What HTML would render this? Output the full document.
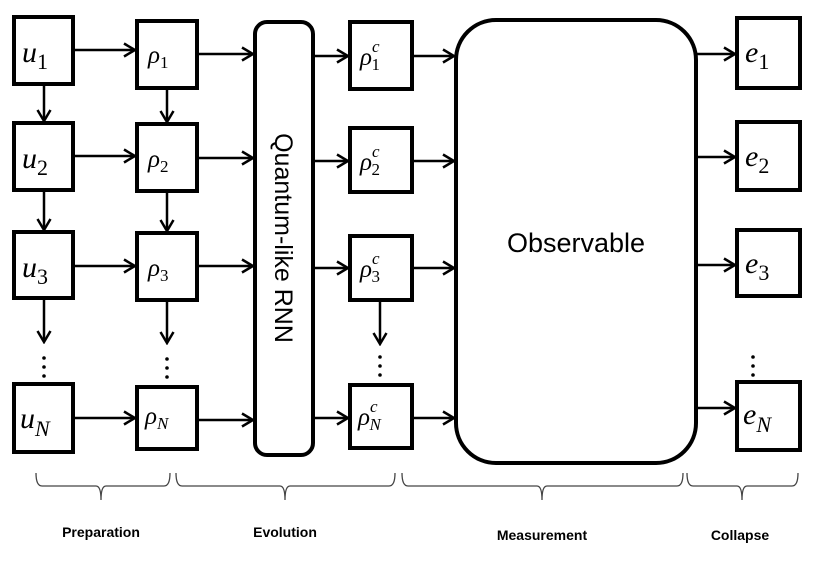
<!DOCTYPE html>
<html><head><meta charset="utf-8"><style>
body{margin:0;background:#fff;}
svg{display:block}
.b{fill:#fff;stroke:#000;stroke-width:4}
.l{stroke:#000;stroke-width:2.5;fill:none}
.m{font-family:"Liberation Serif",serif;font-style:italic;}
.lab{font-family:"Liberation Sans",sans-serif;font-weight:bold;font-size:14px}
</style></head><body>
<svg width="814" height="570" viewBox="0 0 814 570">
<defs><marker id="a" markerWidth="14" markerHeight="16" refX="12" refY="8" orient="auto" markerUnits="userSpaceOnUse"><path d="M1,1.5 L12,8 L1,14.5" fill="none" stroke="#000" stroke-width="2.5"/></marker></defs>
<g class="b">
<rect x="14" y="17" width="59" height="67"/><rect x="14" y="123" width="59" height="67"/><rect x="14" y="232" width="59" height="66"/><rect x="14" y="384" width="59" height="68"/>
<rect x="137" y="21" width="60" height="67"/><rect x="137" y="124" width="60" height="67"/><rect x="137" y="233" width="60" height="67"/><rect x="137" y="387" width="60" height="62"/>
<rect x="255" y="22" width="58" height="433" rx="12"/>
<rect x="350" y="22" width="62" height="67"/><rect x="350" y="128" width="62" height="64"/><rect x="350" y="236" width="62" height="64"/><rect x="350" y="385" width="62" height="63"/>
<rect x="456" y="20" width="240" height="443" rx="40"/>
<rect x="737" y="18" width="63" height="70"/><rect x="737" y="122" width="63" height="68"/><rect x="737" y="230" width="63" height="66"/><rect x="737" y="382" width="63" height="68"/>
</g>
<g class="l" marker-end="url(#a)">
<line x1="73" y1="50" x2="135" y2="50"/><line x1="73" y1="156" x2="135" y2="156"/><line x1="73" y1="266" x2="135" y2="266"/><line x1="73" y1="418" x2="135" y2="418"/>
<line x1="197" y1="54" x2="253" y2="54"/><line x1="197" y1="158" x2="253" y2="158"/><line x1="197" y1="266" x2="253" y2="266"/><line x1="197" y1="420" x2="253" y2="420"/>
<line x1="313" y1="56" x2="348" y2="56"/><line x1="313" y1="161" x2="348" y2="161"/><line x1="313" y1="268" x2="348" y2="268"/><line x1="313" y1="418" x2="348" y2="418"/>
<line x1="412" y1="56" x2="454" y2="56"/><line x1="412" y1="161" x2="454" y2="161"/><line x1="412" y1="268" x2="454" y2="268"/><line x1="412" y1="418" x2="454" y2="418"/>
<line x1="696" y1="54" x2="735" y2="54"/><line x1="696" y1="157" x2="735" y2="157"/><line x1="696" y1="265" x2="735" y2="265"/><line x1="696" y1="408" x2="735" y2="408"/>
<line x1="44" y1="84" x2="44" y2="121"/><line x1="44" y1="190" x2="44" y2="230"/><line x1="44" y1="300" x2="44" y2="342"/>
<line x1="167" y1="88" x2="167" y2="122"/><line x1="167" y1="191" x2="167" y2="231"/><line x1="167" y1="302" x2="167" y2="343"/>
<line x1="380" y1="302" x2="380" y2="344"/>
</g>
<g fill="#000">
<circle cx="44" cy="358" r="1.8"/><circle cx="44" cy="367" r="1.8"/><circle cx="44" cy="376" r="1.8"/>
<circle cx="167" cy="359" r="1.8"/><circle cx="167" cy="368" r="1.8"/><circle cx="167" cy="377" r="1.8"/>
<circle cx="380" cy="357" r="1.8"/><circle cx="380" cy="366" r="1.8"/><circle cx="380" cy="375" r="1.8"/>
<circle cx="753" cy="357" r="1.8"/><circle cx="753" cy="366" r="1.8"/><circle cx="753" cy="375" r="1.8"/>
</g>
<g class="m" font-size="30">
<text x="22" y="62">u<tspan font-size="22" font-style="normal" dy="7">1</tspan></text>
<text x="22" y="168">u<tspan font-size="22" font-style="normal" dy="7">2</tspan></text>
<text x="22" y="277">u<tspan font-size="22" font-style="normal" dy="7">3</tspan></text>
<text x="20" y="428">u<tspan font-size="22" dy="8">N</tspan></text>
<text x="745" y="62">e<tspan font-size="22" font-style="normal" dy="7">1</tspan></text>
<text x="745" y="166">e<tspan font-size="22" font-style="normal" dy="7">2</tspan></text>
<text x="745" y="273">e<tspan font-size="22" font-style="normal" dy="7">3</tspan></text>
<text x="743" y="424">e<tspan font-size="22" dy="8">N</tspan></text>
</g>
<g class="m" font-size="25">
<text x="148" y="63">ρ<tspan font-size="17" font-style="normal" dy="5">1</tspan></text>
<text x="148" y="167">ρ<tspan font-size="17" font-style="normal" dy="5">2</tspan></text>
<text x="148" y="276">ρ<tspan font-size="17" font-style="normal" dy="5">3</tspan></text>
<text x="145" y="424">ρ<tspan font-size="17" dy="5">N</tspan></text>
<text x="360" y="65">ρ<tspan font-size="17" dy="-13">c</tspan><tspan font-size="17" font-style="normal" dx="-8" dy="18">1</tspan></text>
<text x="360" y="170">ρ<tspan font-size="17" dy="-13">c</tspan><tspan font-size="17" font-style="normal" dx="-8" dy="18">2</tspan></text>
<text x="360" y="277">ρ<tspan font-size="17" dy="-13">c</tspan><tspan font-size="17" font-style="normal" dx="-8" dy="18">3</tspan></text>
<text x="358" y="425">ρ<tspan font-size="17" dy="-13">c</tspan><tspan font-size="17" dx="-8" dy="18">N</tspan></text>
</g>
<text x="576" y="252" text-anchor="middle" font-family="Liberation Sans,sans-serif" font-size="27">Observable</text>
<text transform="translate(275,238) rotate(90)" text-anchor="middle" font-family="Liberation Sans,sans-serif" font-size="25">Quantum-like RNN</text>
<g fill="none" stroke="#444" stroke-width="1.3">
<path d="M36,473 Q36,486 42,486 L96,486 Q101,486 101,500 Q101,486 106,486 L164,486 Q170,486 170,473"/>
<path d="M176,473 Q176,486 182,486 L280,486 Q285,486 285,500 Q285,486 290,486 L389,486 Q395,486 395,473"/>
<path d="M402,473 Q402,486 408,486 L537,486 Q542,486 542,500 Q542,486 547,486 L677,486 Q683,486 683,473"/>
<path d="M687,473 Q687,486 693,486 L737,486 Q742,486 742,500 Q742,486 747,486 L792,486 Q798,486 798,473"/>
</g>
<g class="lab" text-anchor="middle">
<text x="101" y="537">Preparation</text>
<text x="285" y="537">Evolution</text>
<text x="542" y="540">Measurement</text>
<text x="740" y="540">Collapse</text>
</g>
</svg>
</body></html>
